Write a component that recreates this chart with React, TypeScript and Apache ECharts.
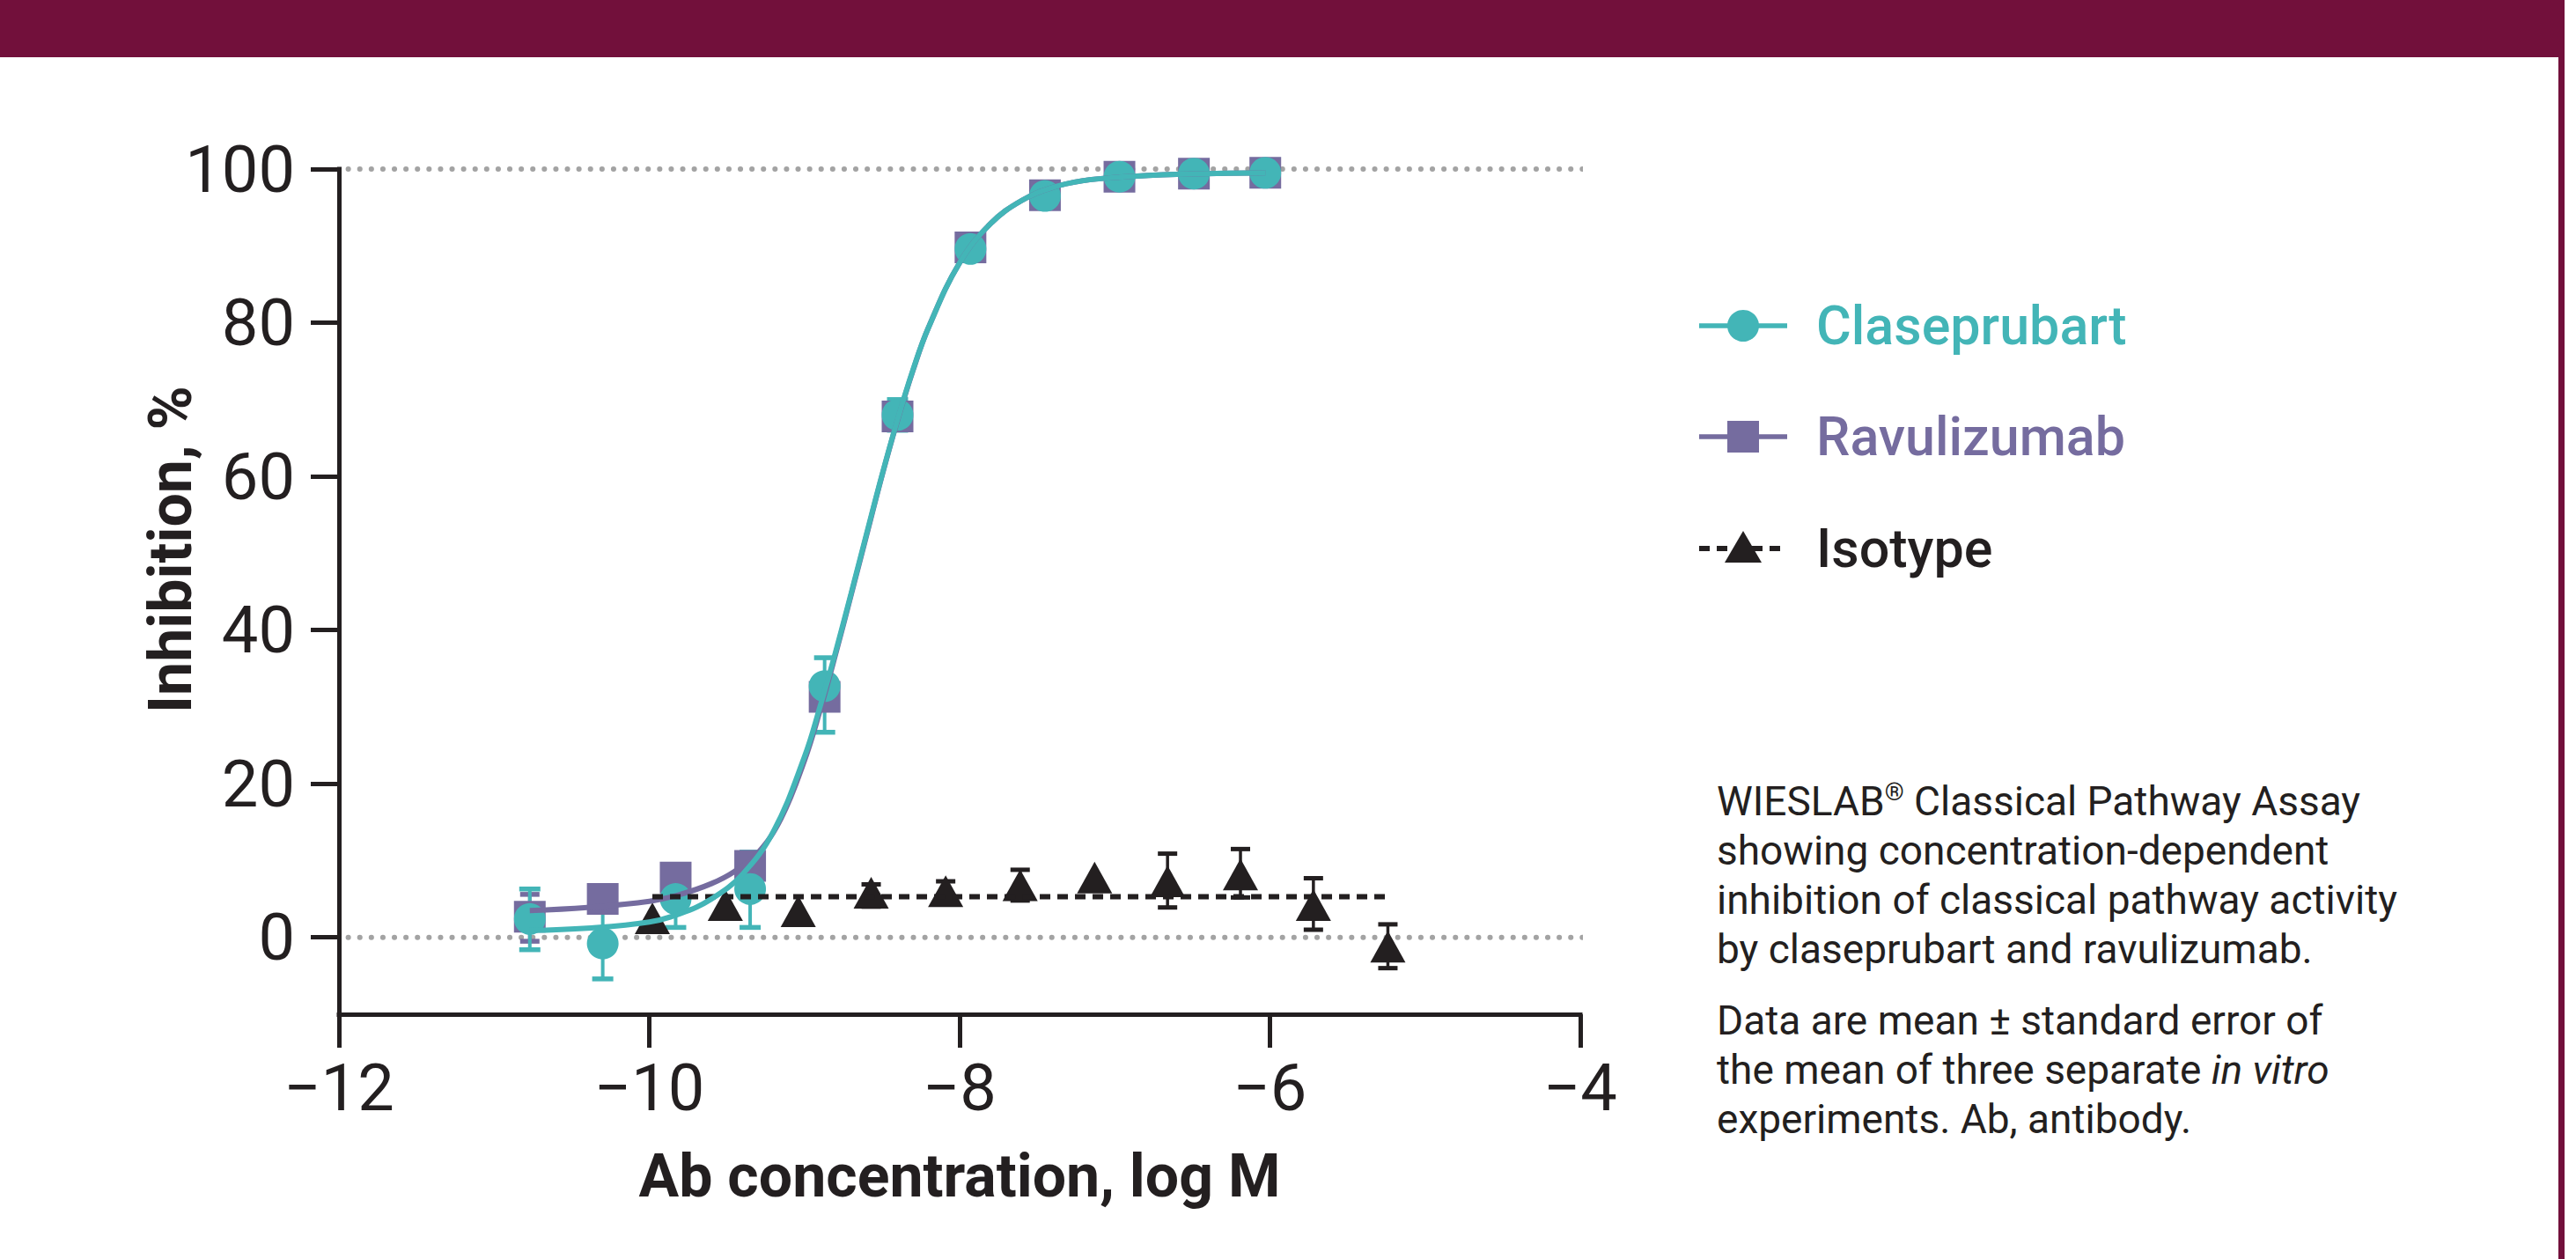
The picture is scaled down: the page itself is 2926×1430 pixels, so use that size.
import React, { useEffect, useRef } from "react";
import * as echarts from "echarts";

// ---------- data ----------
const concentrations = [-10.77, -10.3, -9.83, -9.35, -8.87, -8.4, -7.93, -7.45, -6.97, -6.49, -6.03];

const claseprubartMean = [2.4, -0.8, 5.0, 6.3, 32.7, 68.0, 89.6, 96.5, 99.0, 99.4, 99.5];
const claseprubartLow = [-1.6, -5.4, 1.3, 1.3, 26.7, 66.0, null, null, null, null, null];
const claseprubartHigh = [6.3, 3.9, 8.6, 11.1, 36.4, 70.0, null, null, null, null, null];

const ravulizumabMean = [2.7, 5.0, 7.8, 9.3, 31.3, 67.8, 89.8, 96.6, 99.0, 99.4, 99.5];
const ravulizumabLow = [-0.5, null, null, null, null, null, null, null, null, null, null];
const ravulizumabHigh = [5.6, null, null, null, null, null, null, null, null, null, null];

const isotypeConc = [-9.98, -9.51, -9.04, -8.57, -8.09, -7.61, -7.13, -6.66, -6.19, -5.72, -5.24];
const isotypeMean = [2.5, 4.2, 3.4, 5.8, 6.0, 6.8, 7.8, 7.3, 8.2, 4.2, -1.2];
const isotypeLow = [null, null, null, 4.0, 4.6, 4.8, null, 3.9, 5.2, 1.0, -4.0];
const isotypeHigh = [null, null, null, 6.9, 7.3, 8.8, null, 10.9, 11.5, 7.7, 1.7];

// fitted curves
const claseprubartCurveX = [-10.77, -10.4, -10.0, -9.8, -9.6, -9.4, -9.2, -9.0, -8.9, -8.8, -8.7, -8.6, -8.5, -8.4, -8.3, -8.2, -8.0, -7.8, -7.6, -7.4, -7.2, -7.0, -6.6, -6.03];
const claseprubartCurveY = [0.9, 1.2, 2.0, 3.1, 5.0, 8.2, 13.8, 23.5, 30.0, 37.1, 44.7, 52.5, 60.2, 67.4, 73.9, 79.4, 87.8, 92.9, 95.9, 97.6, 98.5, 98.9, 99.3, 99.5];

const ravulizumabCurveX = [-10.77, -10.4, -10.0, -9.8, -9.6, -9.45, -9.3, -9.15, -9.0, -8.9, -8.8, -8.7, -8.6, -8.5, -8.4, -8.3, -8.2, -8.0, -7.8, -7.6, -7.4, -7.2, -7.0, -6.6, -6.03];
const ravulizumabCurveY = [3.5, 3.9, 4.7, 5.6, 7.0, 8.6, 11.0, 15.5, 23.0, 29.5, 36.8, 44.5, 52.3, 60.1, 67.3, 73.8, 79.4, 87.8, 92.9, 95.9, 97.6, 98.5, 98.9, 99.3, 99.5];

const isotypeFitX = [-9.98, -5.24];
const isotypeFitY = [5.3, 5.3];

const referenceLevels = [0, 100];
const referenceSpan = [-11.94, -3.8];

const xTicks = [-12, -10, -8, -6, -4];
const yTicks = [0, 20, 40, 60, 80, 100];

const seriesNames = ["Claseprubart", "Ravulizumab", "Isotype"];
const yTitle = "Inhibition, %";
const xTitle = "Ab concentration, log M";

const captionA = [
  "{n|WIESLAB}{s|®}{n| Classical Pathway Assay}",
  "{n|showing concentration-dependent}",
  "{n|inhibition of classical pathway activity}",
  "{n|by claseprubart and ravulizumab.}",
];
const captionB = [
  "{n|Data are mean ± standard error of}",
  "{n|the mean of three separate }{i|in vitro}",
  "{n|experiments. Ab, antibody.}",
];

// ---------- styles ----------
const TEAL = "#43B5B7";
const PURPLE = "#756C9F";
const INK = "#231F20";
const GRAY = "#A3A3A3";
const MAROON = "#72103B";
const FONT = "Roboto, 'Noto Sans', sans-serif";

function errorBars(name: string, xs: number[], lows: (number | null)[], highs: (number | null)[], color: string, capW: number, lw: number) {
  const data: number[][] = [];
  xs.forEach((x, i) => {
    if (lows[i] != null && highs[i] != null) data.push([x, lows[i] as number, highs[i] as number]);
  });
  return {
    type: "custom",
    name,
    silent: true,
    data,
    encode: { x: 0, y: [1, 2] },
    renderItem: (params: any, api: any) => {
      const x = api.value(0);
      const lo = api.coord([x, api.value(1)]);
      const hi = api.coord([x, api.value(2)]);
      const h = capW / 2;
      const st = { stroke: color, lineWidth: lw };
      const cs = { stroke: color, lineWidth: lw + 1.5 };
      return {
        type: "group",
        children: [
          { type: "line", shape: { x1: lo[0], y1: lo[1], x2: hi[0], y2: hi[1] }, style: st },
          { type: "line", shape: { x1: lo[0] - h, y1: lo[1], x2: lo[0] + h, y2: lo[1] }, style: cs },
          { type: "line", shape: { x1: hi[0] - h, y1: hi[1], x2: hi[0] + h, y2: hi[1] }, style: cs },
        ],
      };
    },
  };
}

function pairs(xs: number[], ys: number[]) {
  return xs.map((x, i) => [x, ys[i]]);
}

export default function App() {
  const ref = useRef<HTMLDivElement>(null);

  useEffect(() => {
    if (!ref.current) return;
    const chart = echarts.init(ref.current, undefined, { renderer: "svg" });

    const refSeries = referenceLevels.map((lvl) => ({
      type: "line",
      name: "ref" + lvl,
      data: referenceSpan.map((x) => [x, lvl]),
      symbol: "none",
      clip: false,
      silent: true,
      z: 1,
      lineStyle: { color: GRAY, width: 6, type: [0.1, 13], cap: "round" },
    }));

    const legendRows = [
      { y: 370, color: TEAL, marker: "circle", dashed: false },
      { y: 496, color: PURPLE, marker: "rect", dashed: false },
      { y: 623, color: INK, marker: "triangle", dashed: true },
    ];
    const lx1 = 1930, lx2 = 2030, lcx = 1980;
    const legendGraphics: any[] = [];
    legendRows.forEach((r, i) => {
      legendGraphics.push({
        type: "line",
        shape: { x1: lx1, y1: r.y, x2: lx2, y2: r.y },
        style: { stroke: r.color, lineWidth: r.dashed ? 6 : 5.5, lineDash: r.dashed ? [12, 8] : null },
      });
      if (r.marker === "circle") {
        legendGraphics.push({ type: "circle", shape: { cx: lcx, cy: r.y, r: 18 }, style: { fill: r.color } });
      } else if (r.marker === "rect") {
        legendGraphics.push({ type: "rect", shape: { x: lcx - 18, y: r.y - 18, width: 36, height: 36 }, style: { fill: r.color } });
      } else {
        legendGraphics.push({
          type: "polygon",
          shape: { points: [[lcx - 21, r.y + 16], [lcx + 21, r.y + 16], [lcx, r.y - 20]] },
          style: { fill: r.color },
        });
      }
      legendGraphics.push({
        type: "text",
        x: 2063,
        y: r.y,
        style: {
          text: seriesNames[i],
          fill: r.color,
          font: `500 61px ${FONT}`,
          textVerticalAlign: "middle",
          verticalAlign: "middle",
        },
      });
    });

    const captionRich = {
      n: { fontSize: 46, fontFamily: FONT, color: INK, lineHeight: 56 },
      i: { fontSize: 46, fontFamily: FONT, color: INK, fontStyle: "italic", lineHeight: 56 },
      s: { fontSize: 28, fontFamily: FONT, color: INK, padding: [0, 0, 22, 0], lineHeight: 56 },
    };

    const option: any = {
      animation: false,
      backgroundColor: "#ffffff",
      textStyle: { fontFamily: FONT },
      grid: { left: 385, top: 192, width: 1410, height: 960, containLabel: false },
      xAxis: {
        type: "value",
        min: xTicks[0],
        max: xTicks[xTicks.length - 1],
        interval: 2,
        axisLine: { onZero: false, lineStyle: { color: INK, width: 5, cap: "square" } },
        axisTick: { length: 38, lineStyle: { color: INK, width: 5 } },
        axisLabel: {
          fontSize: 74,
          color: INK,
          fontFamily: FONT,
          margin: 46,
          formatter: (v: number) => String(v).replace("-", "\u2212"),
        },
        splitLine: { show: false },
        name: xTitle,
        nameLocation: "middle",
        nameGap: 150,
        nameTextStyle: { fontSize: 68, fontWeight: "bold", color: INK, fontFamily: FONT },
      },
      yAxis: {
        type: "value",
        min: -10,
        max: 100,
        axisLine: { onZero: false, lineStyle: { color: INK, width: 5, cap: "square" } },
        axisTick: { length: 32, lineStyle: { color: INK, width: 5 }, customValues: yTicks },
        axisLabel: { fontSize: 74, color: INK, fontFamily: FONT, margin: 50, customValues: yTicks },
        splitLine: { show: false },
      },
      graphic: [
        { type: "rect", shape: { x: 0, y: 0, width: 2913, height: 65 }, style: { fill: MAROON }, z: 10 },
        { type: "rect", shape: { x: 2906, y: 0, width: 7, height: 1430 }, style: { fill: MAROON }, z: 10 },
        {
          type: "text",
          x: 194,
          y: 624,
          rotation: Math.PI / 2,
          style: {
            text: yTitle,
            fill: INK,
            font: `bold 68px ${FONT}`,
            align: "center",
            verticalAlign: "middle",
          },
        },
        ...legendGraphics,
        {
          type: "text",
          x: 1950,
          y: 882,
          style: { text: captionA.join("\n"), rich: captionRich, fill: INK, font: `46px ${FONT}` },
        },
        {
          type: "text",
          x: 1950,
          y: 1131,
          style: { text: captionB.join("\n"), rich: captionRich, fill: INK, font: `46px ${FONT}` },
        },
      ],
      series: [
        ...refSeries,
        {
          type: "line",
          name: "Ravulizumab fit",
          data: pairs(ravulizumabCurveX, ravulizumabCurveY),
          symbol: "none",
          smooth: 0.4,
          lineStyle: { color: PURPLE, width: 6 },
        },
        errorBars("Ravulizumab SEM", concentrations, ravulizumabLow, ravulizumabHigh, PURPLE, 22, 4),
        {
          type: "scatter",
          name: seriesNames[1],
          data: pairs(concentrations, ravulizumabMean),
          symbol: "rect",
          symbolSize: 36,
          itemStyle: { color: PURPLE, opacity: 1 },
        },
        {
          type: "line",
          name: "Isotype fit",
          data: pairs(isotypeFitX, isotypeFitY),
          symbol: "none",
          lineStyle: { color: INK, width: 6, type: [12, 8] },
        },
        errorBars("Isotype SEM", isotypeConc, isotypeLow, isotypeHigh, INK, 22, 3.5),
        {
          type: "scatter",
          name: seriesNames[2],
          data: pairs(isotypeConc, isotypeMean),
          symbol: "triangle",
          symbolSize: [40, 36],
          itemStyle: { color: INK, opacity: 1 },
        },
        {
          type: "line",
          name: "Claseprubart fit",
          data: pairs(claseprubartCurveX, claseprubartCurveY),
          symbol: "none",
          smooth: 0.4,
          lineStyle: { color: TEAL, width: 6 },
        },
        errorBars("Claseprubart SEM", concentrations, claseprubartLow, claseprubartHigh, TEAL, 24, 4),
        {
          type: "scatter",
          name: seriesNames[0],
          data: pairs(concentrations, claseprubartMean),
          symbol: "circle",
          symbolSize: 36,
          itemStyle: { color: TEAL, opacity: 1 },
        },
      ],
    };

    chart.setOption(option);
    return () => chart.dispose();
  }, []);

  return (
    <div
      ref={ref}
      style={{ position: "fixed", left: 0, top: 0, width: 2926, height: 1430, background: "#ffffff" }}
    />
  );
}
